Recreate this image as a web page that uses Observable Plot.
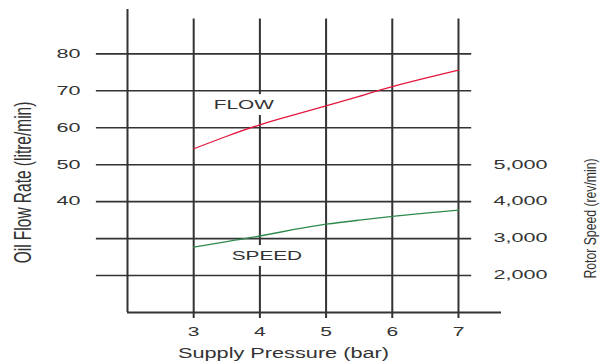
<!DOCTYPE html>
<html><head><meta charset="utf-8">
<script src="https://cdn.jsdelivr.net/npm/d3@7"></script>
<script src="https://cdn.jsdelivr.net/npm/@observablehq/plot@0.6"></script>
<style>html,body{margin:0;padding:0;background:#fff}</style>
</head><body><div id="chart"></div>
<script>
// Data
const pressure = [3, 3.5, 4, 4.5, 5, 5.5, 6, 6.5, 7];            // Supply Pressure (bar)
const flow = [54.3, 57.7, 60.8, 63.4, 65.9, 68.5, 71.1, 73.4, 75.6]; // Oil Flow Rate (litre/min)
const speed = [2770, 2920, 3070, 3240, 3390, 3500, 3600, 3690, 3770]; // Rotor Speed (rev/min)
const xTicks = [3, 4, 5, 6, 7];
const flowTicks = [40, 50, 60, 70, 80];
const speedTicks = [2000, 3000, 4000, 5000];
const gridFlow = [20, 30, 40, 50, 60, 70, 80];
const xLabel = "Supply Pressure (bar)";
const yLabelLeft = "Oil Flow Rate (litre/min)";
const yLabelRight = "Rotor Speed (rev/min)";
const seriesNames = ["FLOW", "SPEED"];

const rows = pressure.map((p, i) => ({pressure: p, flow: flow[i], speed: speed[i]}));
const spd = d => d.speed / 100; // speed axis: 1,000 rev/min per 10 litre/min
const ink = "#333";

const chart = Plot.plot({
  width: 613, height: 362,
  marginLeft: 127, marginRight: 112, marginTop: 9, marginBottom: 50,
  x: {domain: [2, 7.65]},
  y: {domain: [10, 92]},
  style: {fontFamily: "'Liberation Sans', Arial, sans-serif", fontSize: "12px", color: ink, background: "#fff"},
  marks: [
    Plot.ruleY(gridFlow, {x1: 1.53, x2: 7.2, stroke: ink, strokeWidth: 1.6}),
    Plot.ruleY([10], {x1: 2, x2: 7.65, stroke: ink, strokeWidth: 1.8}),
    Plot.ruleX([2], {y1: 10, y2: 92, stroke: ink, strokeWidth: 2}),
    Plot.ruleX(xTicks, {y1: 8.4, y2: 89.4, stroke: ink, strokeWidth: 2}),
    Plot.line(rows, {x: "pressure", y: "flow", stroke: "#e3173e", strokeWidth: 1.3, curve: "natural"}),
    Plot.line(rows, {x: "pressure", y: spd, stroke: "#2e8b4c", strokeWidth: 1.3, curve: "natural"}),
    Plot.text([rows[2]], {x: "pressure", y: "flow", text: () => seriesNames[0], dx: -16, dy: -20,
      fontSize: 13, fill: ink, stroke: "white", strokeWidth: 12}),
    Plot.text([rows[2]], {x: "pressure", y: spd, text: () => seriesNames[1], dx: 7, dy: 19.5,
      fontSize: 13, fill: ink, stroke: "white", strokeWidth: 12}),
    Plot.axisX(xTicks, {anchor: "bottom", tickSize: 0, tickPadding: 15, label: null, fontSize: 12}),
    Plot.axisY(flowTicks, {anchor: "left", tickSize: 0, tickPadding: 47, label: null, fontSize: 12}),
    Plot.axisY(speedTicks.map(s => s / 100), {anchor: "right", tickSize: 0, tickPadding: 0, dx: -8,
      tickFormat: d => d3.format(",")(d * 100), label: null, fontSize: 12}),
    Plot.text([xLabel], {frameAnchor: "bottom", textAnchor: "middle", dx: -31, dy: 41, lineAnchor: "middle",
      fontSize: 14, fill: ink}),
    Plot.text([yLabelLeft], {frameAnchor: "left", textAnchor: "middle", rotate: -90, dx: -104, dy: 21.5,
      lineAnchor: "middle", fontSize: 24, fill: ink}),
    Plot.text([yLabelRight], {frameAnchor: "right", textAnchor: "middle", rotate: -90, dx: 89, dy: 57.5,
      lineAnchor: "middle", fontSize: 16, fill: ink})
  ]
});
document.getElementById("chart").append(chart);

// reproduce the reference's horizontally stretched lettering with textLength
const svg = chart.tagName.toLowerCase() === "svg" ? chart : chart.querySelector("svg");
svg.querySelectorAll("text").forEach(t => {
  const s = t.textContent;
  let f = null;
  if (/^[\d,]+$/.test(s)) f = xTicks.includes(+s) ? 1.75 : 1.8;
  else if (seriesNames.includes(s)) f = 1.6;
  else if (s === xLabel) f = 1.55;
  else if (s === yLabelLeft) f = 0.645;
  else if (s === yLabelRight) f = 0.764;
  if (f) {
    const L = t.getComputedTextLength();
    t.setAttribute("textLength", (L * f).toFixed(1));
    t.setAttribute("lengthAdjust", "spacingAndGlyphs");
  }
});
</script>
</body></html>
